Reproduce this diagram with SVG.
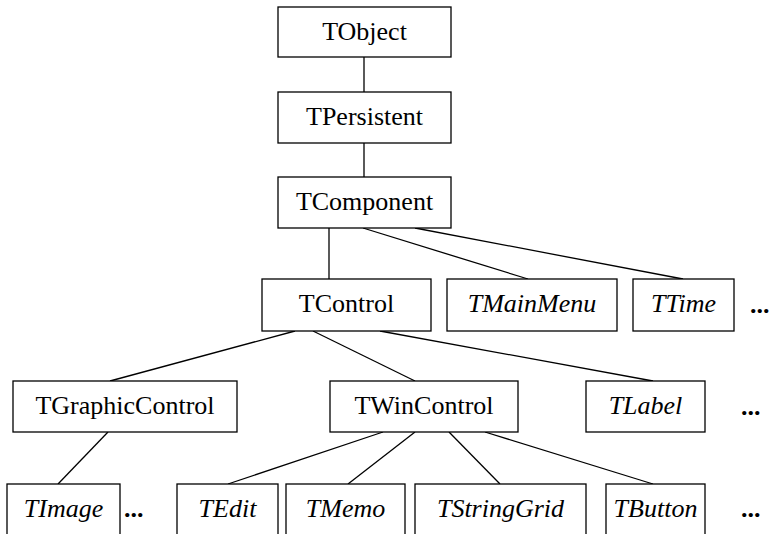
<svg xmlns="http://www.w3.org/2000/svg" width="778" height="534" viewBox="0 0 778 534">
<style>
.box{fill:#fff;stroke:#000;stroke-width:1.3}
.t{font-family:"Liberation Serif","Times New Roman",serif;font-size:26px;fill:#000;text-anchor:middle}
.i{font-style:italic}
.dots{font-family:"Liberation Serif","Times New Roman",serif;font-size:26px;font-weight:bold;fill:#000}
.c line{stroke:#000;stroke-width:1.3}
</style>
<rect width="778" height="534" fill="#fff"/>
<g class="c" id="connectors">
<line x1="364" y1="57" x2="364" y2="92"/>
<line x1="364" y1="143" x2="364" y2="177"/>
<line x1="329" y1="228" x2="329" y2="279"/>
<line x1="363" y1="228" x2="528" y2="279"/>
<line x1="415" y1="228" x2="683" y2="279"/>
<line x1="295" y1="331" x2="110" y2="381"/>
<line x1="313" y1="331" x2="415" y2="381"/>
<line x1="380" y1="331" x2="653" y2="381"/>
<line x1="108" y1="432" x2="58" y2="484"/>
<line x1="383" y1="432" x2="228" y2="484"/>
<line x1="415" y1="432" x2="348" y2="484"/>
<line x1="449" y1="432" x2="500" y2="484"/>
<line x1="485" y1="432" x2="653" y2="484"/>
</g>
<g id="TObject"><rect class="box" x="278" y="7" width="173" height="50"/><text class="t" x="364.5" y="40">TObject</text></g>
<g id="TPersistent"><rect class="box" x="278" y="92" width="173" height="51"/><text class="t" x="364.5" y="125">TPersistent</text></g>
<g id="TComponent"><rect class="box" x="278" y="177" width="173" height="51"/><text class="t" x="364.5" y="210">TComponent</text></g>
<g id="TControl"><rect class="box" x="262" y="279" width="169" height="52"/><text class="t" x="346.5" y="312">TControl</text></g>
<g id="TMainMenu"><rect class="box" x="447" y="279" width="170" height="52"/><text class="t i" x="532" y="312">TMainMenu</text></g>
<g id="TTime"><rect class="box" x="633" y="279" width="101" height="52"/><text class="t i" x="683.5" y="312">TTime</text></g>
<g id="dots1"><text class="dots" x="750" y="313">...</text></g>
<g id="TGraphicControl"><rect class="box" x="13" y="381" width="224" height="51"/><text class="t" x="125" y="414">TGraphicControl</text></g>
<g id="TWinControl"><rect class="box" x="330" y="381" width="188" height="51"/><text class="t" x="424" y="414">TWinControl</text></g>
<g id="TLabel"><rect class="box" x="586" y="381" width="119" height="51"/><text class="t i" x="645.5" y="414">TLabel</text></g>
<g id="dots2"><text class="dots" x="741" y="415">...</text></g>
<g id="TImage"><rect class="box" x="7" y="484" width="113" height="60"/><text class="t i" x="63.5" y="517">TImage</text></g>
<g id="dots3"><text class="dots" x="124" y="517">...</text></g>
<g id="TEdit"><rect class="box" x="177" y="484" width="101" height="60"/><text class="t i" x="227.5" y="517">TEdit</text></g>
<g id="TMemo"><rect class="box" x="286" y="484" width="119" height="60"/><text class="t i" x="345.5" y="517">TMemo</text></g>
<g id="TStringGrid"><rect class="box" x="415" y="484" width="171" height="60"/><text class="t i" x="500.5" y="517">TStringGrid</text></g>
<g id="TButton"><rect class="box" x="606" y="484" width="99" height="60"/><text class="t i" x="655.5" y="517">TButton</text></g>
<g id="dots4"><text class="dots" x="741" y="517">...</text></g>
</svg>
